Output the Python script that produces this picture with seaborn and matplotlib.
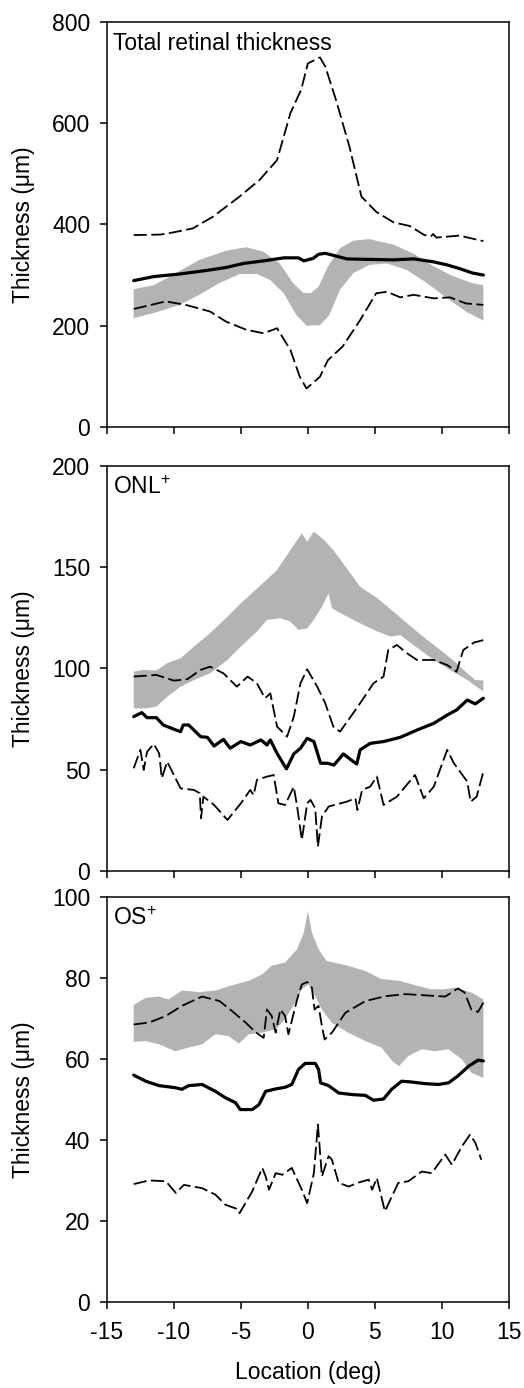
import numpy as np
import seaborn as sns
import matplotlib
matplotlib.use("Agg")
import matplotlib.pyplot as plt

# ---- Total retinal thickness ----
tot_up_x = [-13.0, -11.0, -10.1, -8.6, -7.1, -5.1, -3.6, -2.3, -1.3, -0.5, 0.0, 0.9, 1.3, 2.1, 3.1, 4.0, 5.1, 6.4, 7.6, 8.7, 9.2, 9.35, 9.6, 11.3, 13.1]
tot_up_y = [379, 380, 384, 392, 415, 455, 488, 527, 620, 666, 718, 730, 712, 646, 554, 455, 425, 404, 397, 379, 377, 381, 374, 378, 367]
tot_lo_x = [-13.0, -10.6, -9.1, -7.3, -6.1, -4.6, -3.3, -2.3, -1.3, -0.6, -0.1, 0.9, 1.5, 2.6, 3.9, 5.1, 5.9, 6.9, 7.9, 9.4, 10.6, 11.8, 13.1]
tot_lo_y = [233, 248, 241, 228, 208, 192, 185, 195, 152, 99, 76, 99, 132, 159, 211, 264, 267, 256, 261, 254, 256, 244, 241]
tot_mean_x = [-13.0, -11.5, -9.6, -7.6, -6.1, -4.8, -3.3, -1.8, -0.7, -0.3, 0.4, 0.8, 1.3, 1.9, 2.9, 4.4, 6.4, 7.9, 9.4, 10.4, 11.3, 12.3, 13.1]
tot_mean_y = [289, 297, 302, 309, 315, 323, 328, 334, 334, 328, 333, 341, 343, 339, 332, 331, 330, 332, 326, 320, 313, 304, 300]
tot_band_hi_x = [-13.0, -11.5, -10.1, -8.1, -6.1, -4.6, -3.3, -2.1, -1.1, -0.35, 0.2, 0.8, 1.5, 2.4, 3.4, 4.6, 6.4, 7.9, 9.4, 10.9, 12.3, 13.1]
tot_band_hi_y = [272, 280, 300, 330, 348, 355, 346, 323, 284, 265, 264, 277, 317, 353, 368, 371, 360, 342, 317, 297, 284, 280]
tot_band_lo_x = [-13.0, -11.5, -9.6, -8.1, -6.6, -5.1, -3.8, -2.8, -1.8, -0.85, -0.1, 0.9, 1.6, 2.4, 3.4, 4.6, 5.9, 7.4, 8.9, 10.4, 11.8, 13.1]
tot_band_lo_y = [215, 225, 241, 261, 284, 302, 302, 290, 264, 221, 200, 201, 221, 271, 304, 320, 323, 310, 284, 254, 228, 210]

# ---- ONL+ ----
onl_up_x = [-13.0, -11.3, -10.0, -9.0, -8.0, -7.3, -6.3, -5.3, -4.5, -3.8, -3.2, -2.8, -2.3, -1.55, -1.05, -0.55, -0.05, 0.7, 1.3, 1.9,
            2.4, 3.2, 3.9, 4.9, 5.65, 6.0, 6.65, 7.4, 8.15, 9.4, 10.4, 11.1, 11.6, 12.4, 13.1]
onl_up_y = [96, 96.8, 94, 94.7, 99.3, 100.9, 97.6, 91, 96, 92.7, 85.3, 87.7, 71.3, 66.3, 76.2, 92.7, 99.6, 91, 82.8, 71.3,
            68.8, 76.2, 82.8, 92.7, 96, 109.1, 111.6, 107.5, 104.2, 104.2, 101.7, 98.4, 109.1, 112.8, 114]
onl_mean_x = [-13.0, -12.4, -12.0, -11.3, -10.8, -10.0, -9.5, -9.3, -8.9, -8.0, -7.5, -7.0, -6.3, -5.8, -5.0, -4.3, -3.5, -3.05, -2.8, -2.3,
              -1.6, -1.05, -0.55, -0.05, 0.45, 0.95, 1.45, 1.95, 2.65, 3.4, 3.65, 3.9, 4.65, 5.65, 6.9, 8.15, 9.4, 10.4, 11.1, 11.9, 12.5, 13.1]
onl_mean_y = [76.2, 78.2, 75.7, 75.7, 72.1, 70, 68.8, 72.1, 72.1, 66.3, 66, 61.7, 65, 60.6, 63.9, 62.2, 64.7, 62.2, 64.7, 58.1,
              50.4, 57.8, 60.6, 65.5, 63.9, 53.2, 53.2, 52.3, 57.8, 54, 52.8, 59.8, 63, 63.9, 66, 69.6, 72.9, 77, 79.5, 84.4, 82.5, 85.3]
onl_lo_x = [-13.0, -12.5, -12.25, -12.0, -11.5, -11.1, -10.9, -10.5, -9.5, -8.5, -8.07, -7.97, -7.8, -7.0, -6.0, -5.0, -4.3, -4.05, -3.8, -3.05,
            -2.55, -2.2, -1.7, -1.05, -0.8, -0.45, -0.05, 0.2, 0.55, 0.75, 1.05, 1.55, 2.9, 3.55, 3.7, 4.05, 4.65, 5.15, 5.65, 6.65,
            8.0, 8.65, 9.4, 10.4, 10.9, 11.9, 12.15, 12.6, 13.1]
onl_lo_y = [50.7, 59.8, 49.9, 58.9, 62.7, 58.1, 45.8, 54, 40.8, 40, 38.4, 26, 36.7, 32.6, 25.2, 33.4, 40, 37.5, 45, 46.6,
            47.4, 33.4, 32.6, 41.6, 31.8, 15.3, 33.4, 35.1, 30.9, 12, 26.8, 31.8, 34.2, 35.9, 30.1, 40, 41.6, 46.6, 32.6, 36.7,
            47.4, 35.9, 41.6, 59.8, 53.2, 44.1, 34.2, 36.7, 49]
onl_band_hi_x = [-13.0, -12.3, -11.3, -10.5, -9.5, -8.5, -7.3, -6.0, -5.0, -3.5, -2.3, -1.3, -0.45, -0.05, 0.45, 1.2, 1.9, 2.9, 3.9, 5.2,
                 6.4, 7.4, 8.6, 9.9, 11.1, 11.9, 12.5, 13.1]
onl_band_hi_y = [98.4, 99.3, 99, 102.6, 105, 110.8, 117.4, 125.6, 132.2, 141.2, 148.6, 158.5, 166.7, 162.6, 167.6, 163.5, 158.5, 149.5, 140.4, 134.6,
                 128, 122.3, 115.7, 109.1, 102.6, 97.6, 94.3, 94]
onl_band_lo_x = [-13.0, -12.0, -11.3, -10.5, -9.5, -8.5, -7.3, -6.0, -5.0, -3.8, -3.05, -2.05, -1.3, -0.7, -0.05, 0.45, 1.05, 1.55, 1.8, 2.7,
                 3.9, 5.2, 6.2, 6.9, 8.2, 9.4, 10.6, 11.9, 13.1]
onl_band_lo_y = [80.3, 80.3, 81.2, 86, 91, 94.3, 97.6, 104.2, 110.8, 118.2, 124, 124.8, 123.1, 119, 119.8, 124, 130.5, 137.1, 129.7, 126.4,
                 122.3, 118.2, 115.7, 116.5, 110, 104.2, 99.3, 94.3, 88.6]

# ---- OS+ ----
os_up_x = [-13.0, -11.85, -10.6, -9.4, -7.9, -6.6, -5.65, -4.65, -3.9, -3.3, -3.05, -2.7, -2.4, -2.05, -1.7, -1.45, -0.8, -0.45, -0.05, 0.3,
           0.5, 0.8, 1.05, 1.25, 1.8, 2.8, 4.3, 5.8, 7.3, 8.75, 10.25, 11.2, 11.7, 12.2, 12.7, 13.1]
os_up_y = [68.5, 69, 70.6, 73.1, 75.4, 74.3, 71.8, 69, 66.6, 65.2, 72.2, 70.6, 66.5, 72.2, 70.6, 66.1, 74.7, 78.4, 79, 77.6,
           72.2, 73.1, 68.1, 64.8, 66.5, 71.4, 74.3, 75.5, 76, 75.7, 75.4, 77.4, 76.4, 72.2, 71.6, 73.9]
os_mean_x = [-13.0, -12.1, -11.1, -9.9, -9.4, -8.9, -7.9, -6.9, -6.15, -5.4, -5.05, -4.15, -3.65, -3.15, -2.4, -1.7, -1.2, -0.7, -0.2, 0.55,
             0.8, 0.95, 1.55, 2.3, 3.3, 4.3, 4.9, 5.65, 6.25, 7.0, 7.75, 8.75, 9.75, 10.5, 11.2, 12.0, 12.7, 13.1]
os_mean_y = [56, 54.5, 53.4, 52.9, 52.5, 53.4, 53.7, 52, 50.4, 49.2, 47.5, 47.5, 48.7, 52, 52.6, 53, 53.7, 57.4, 58.9, 58.9,
             57.4, 54.1, 53.4, 51.6, 51.2, 51, 49.8, 50.1, 52.5, 54.5, 54.3, 53.9, 53.7, 54.1, 55.8, 58.2, 59.7, 59.5]
os_lo_x = [-13.0, -11.85, -10.6, -9.85, -9.25, -7.9, -6.9, -6.15, -5.15, -5.1, -4.15, -3.4, -3.15, -2.9, -2.4, -1.9, -1.2, -0.45, -0.05, 0.45,
           0.75, 1.05, 1.55, 1.8, 2.3, 3.05, 3.8, 4.55, 4.8, 5.15, 5.75, 6.75, 7.5, 8.5, 9.25, 10.25, 10.75, 11.5, 12.1, 12.5, 12.95]
os_lo_y = [29.1, 30, 29.8, 26.9, 28.9, 28.1, 26.5, 24, 22.8, 21.9, 27.3, 33.1, 31, 27.7, 31.8, 31.4, 33.1, 27.7, 24.4, 31.8,
           43.8, 31, 36, 35.1, 29.4, 28.5, 29.5, 30.2, 27.7, 30.6, 22.4, 29.4, 29.8, 32.2, 31.8, 36.4, 33.9, 38.4, 41.3, 39.3, 35.1]
os_band_hi_x = [-13.0, -12.1, -11.1, -10.4, -9.4, -8.1, -6.9, -5.65, -4.4, -3.4, -2.7, -1.7, -0.8, -0.3, 0.0, 0.3, 0.8, 1.4, 3.0, 4.3,
                5.5, 6.8, 8.0, 9.2, 10.2, 11.0, 12.2, 13.1]
os_band_hi_y = [73.3, 75.1, 75.4, 74.7, 76.9, 76.5, 76.9, 78.2, 79.3, 80.9, 83, 83.8, 87.1, 91.2, 96.6, 91.2, 87.1, 84.2, 83, 81.7,
                79.7, 79.3, 78.2, 77.2, 77.2, 77.6, 76.4, 74.7]
os_band_lo_x = [-13.0, -12.1, -11.1, -9.9, -8.9, -7.9, -6.9, -5.9, -5.15, -4.4, -3.4, -2.4, -1.7, -0.95, -0.45, 0.05, 0.55, 1.05, 1.8, 3.0,
                4.3, 5.5, 6.3, 6.8, 7.5, 8.5, 9.5, 10.5, 11.5, 12.2, 13.1]
os_band_lo_y = [64.2, 64.4, 63.6, 61.9, 62.8, 63.6, 66.1, 65.6, 63.8, 66.1, 66.5, 67.3, 69.8, 73.9, 77.2, 78.4, 75.5, 72.2, 68.9, 66.5,
                64.4, 62.8, 59.5, 58.2, 60.7, 62.4, 61.9, 62.4, 59.9, 56.6, 55.3]

x_ticks = [-15, -10, -5, 0, 5, 10, 15]

sns.set_theme(style="ticks")
plt.rcParams['font.family'] = ['Liberation Sans', 'DejaVu Sans']
plt.rcParams['mathtext.default'] = 'regular'
plt.rcParams['lines.scale_dashes'] = False
plt.rcParams['axes.unicode_minus'] = False
plt.rcParams['text.color'] = 'black'
plt.rcParams['axes.labelcolor'] = 'black'

BAND = "#b3b3b3"
DASH = (0, (9.5, 3.2))
FS = 16.5

fig = plt.figure(figsize=(5.24, 13.88), dpi=100)
left, width, height = 0.204, 0.767, 0.2918
bottoms = [0.6924, 0.3725, 0.0620]

panels = [
    dict(title="Total retinal thickness", ymax=800, yticks=[0, 200, 400, 600, 800],
         band=(tot_band_hi_x, tot_band_hi_y, tot_band_lo_x, tot_band_lo_y),
         up=(tot_up_x, tot_up_y), mean=(tot_mean_x, tot_mean_y), lo=(tot_lo_x, tot_lo_y)),
    dict(title=r"ONL$^{+}$", ymax=200, yticks=[0, 50, 100, 150, 200],
         band=(onl_band_hi_x, onl_band_hi_y, onl_band_lo_x, onl_band_lo_y),
         up=(onl_up_x, onl_up_y), mean=(onl_mean_x, onl_mean_y), lo=(onl_lo_x, onl_lo_y)),
    dict(title=r"OS$^{+}$", ymax=100, yticks=[0, 20, 40, 60, 80, 100],
         band=(os_band_hi_x, os_band_hi_y, os_band_lo_x, os_band_lo_y),
         up=(os_up_x, os_up_y), mean=(os_mean_x, os_mean_y), lo=(os_lo_x, os_lo_y)),
]

for i, p in enumerate(panels):
    ax = fig.add_axes([left, bottoms[i], width, height])
    hx, hy, lx, ly = p["band"]
    ax.fill(np.r_[hx, lx[::-1]], np.r_[hy, ly[::-1]], color=BAND, lw=0, zorder=1)
    sns.lineplot(x=p["up"][0], y=p["up"][1], ax=ax, sort=False, estimator=None,
                 color="black", lw=1.3, linestyle=DASH, zorder=3)
    sns.lineplot(x=p["lo"][0], y=p["lo"][1], ax=ax, sort=False, estimator=None,
                 color="black", lw=1.3, linestyle=DASH, zorder=3)
    sns.lineplot(x=p["mean"][0], y=p["mean"][1], ax=ax, sort=False, estimator=None,
                 color="black", lw=2.3, zorder=4)

    ax.set_xlim(-15, 15)
    ax.set_ylim(0, p["ymax"])
    ax.set_xticks(x_ticks)
    ax.set_yticks(p["yticks"])
    for s in ax.spines.values():
        s.set_visible(True)
        s.set_linewidth(1.1)
        s.set_color("black")
    ax.tick_params(direction="out", length=5, width=1.1, labelsize=FS,
                   top=False, right=False, colors="black")
    ax.tick_params(axis="y", pad=7)
    ax.tick_params(axis="x", pad=9)
    ax.set_ylabel("Thickness (μm)", fontsize=FS)
    ax.yaxis.set_label_coords(-0.18, 0.5)
    ax.text(0.015, 0.975, p["title"], transform=ax.transAxes, fontsize=FS,
            ha="left", va="top")
    if i < 2:
        ax.tick_params(axis="x", labelbottom=False)
        ax.set_xlabel("")
    else:
        ax.set_xlabel("Location (deg)", fontsize=FS, labelpad=12)

fig.savefig("out.png", dpi=100)
